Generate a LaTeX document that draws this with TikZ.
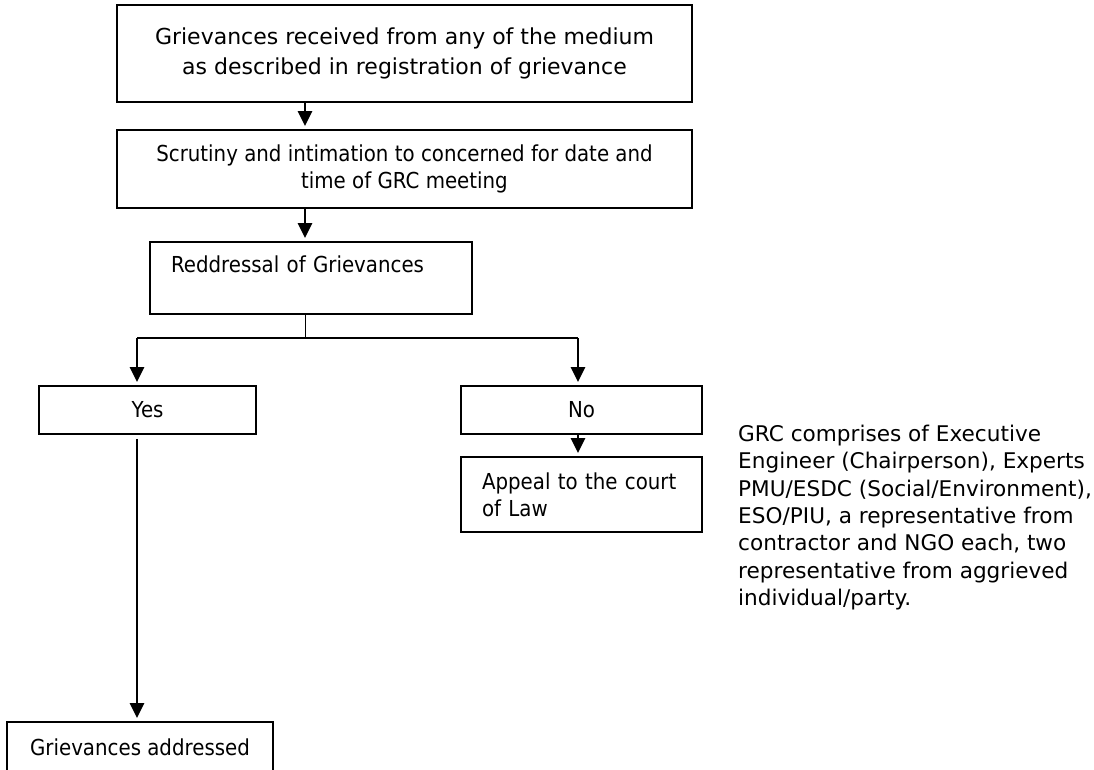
\documentclass[tikz,border=0pt]{standalone}
\usepackage{fontspec}
\setmainfont{DejaVu Sans}
\newfontfamily\narrowfont[FakeStretch=0.9]{DejaVu Sans}
\usetikzlibrary{arrows.meta}

\begin{document}
\begin{tikzpicture}[x=1pt,y=-1pt,
    box/.style={rectangle,draw,line width=1.8pt,inner sep=0pt},
    wide/.style={font=\fontsize{22}{30}\selectfont,align=center},
    slim/.style={font=\narrowfont\fontsize{22}{27}\selectfont},
    arr/.style={-{Triangle[width=14pt,length=15pt]},line width=2.4pt,shorten >=3pt}]
    \useasboundingbox (0,0) rectangle (1094,769);
    % Steps
    \node[box,wide,minimum width=575pt,minimum height=97pt] (recv) at (404.5,53.5) {Grievances received from any of the medium\\as described in registration of grievance};
    \node[box,slim,align=center,minimum width=575pt,minimum height=78pt] (scrut) at (404.5,169) {Scrutiny and intimation to concerned for date and\\time of GRC meeting};
    \node[box,slim,align=left,text width=280pt,inner xsep=21pt,minimum height=72pt] (redr) at (311,278) {Reddressal of Grievances\\\mbox{}};
    % Outcomes
    \node[box,slim,minimum width=217pt,minimum height=48pt] (yes) at (147.5,410) {Yes};
    \node[box,slim,minimum width=241pt,minimum height=48pt] (no) at (581.5,410) {No};
    \node[box,slim,align=left,text width=199pt,inner xsep=21pt,minimum height=75pt] (appeal) at (581.5,494.5) {Appeal to the court\\of Law};
    \node[box,slim,minimum width=266pt,minimum height=50pt] (done) at (140,747) {Grievances addressed};
    % Note
    \node[anchor=west,align=left,inner sep=0pt,font=\fontsize{21.6}{27.4}\selectfont] (grc) at (738,517.5) {GRC comprises of Executive\\Engineer (Chairperson), Experts\\PMU/ESDC (Social/Environment),\\ESO/PIU, a representative from\\contractor and NGO each, two\\representative from aggrieved\\individual/party.};
    % Connections
    \coordinate (fork) at (305,338);
    \coordinate (ybr) at (137,338);
    \coordinate (nbr) at (578,338);
    \draw[arr] (recv.south -| fork) -- (scrut.north -| fork);
    \draw[arr] (scrut.south -| fork) -- (redr.north -| fork);
    \draw[line width=1pt] (redr.south -| fork) -- (fork);
    \draw[line width=2pt] (ybr) -- (nbr);
    \foreach \b/\t in {ybr/yes,nbr/no} \draw[arr] (\b) -- (\t.north -| \b);
    \draw[arr] (no.south -| nbr) -- (appeal.north -| nbr);
    \draw[arr,shorten <=4pt] (yes.south -| ybr) -- (done.north -| ybr);
\end{tikzpicture}
\end{document}
